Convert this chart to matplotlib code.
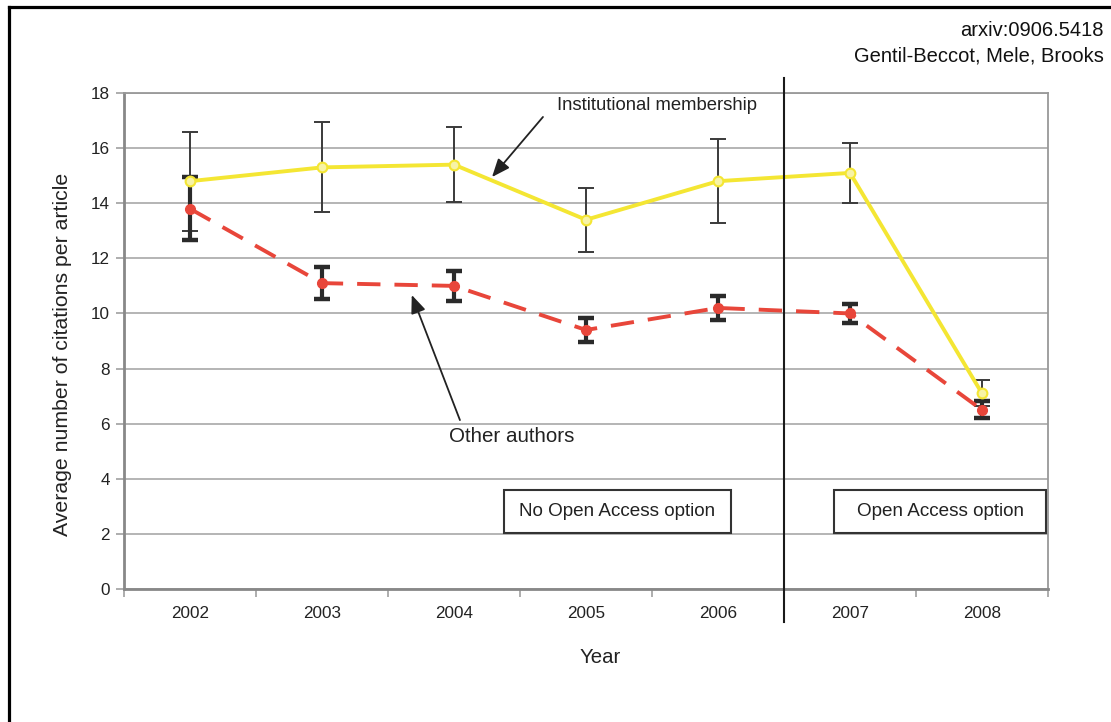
import numpy as np
import matplotlib
matplotlib.use('Agg')
import matplotlib.pyplot as plt
from matplotlib.patches import Rectangle
from matplotlib.lines import Line2D

plt.rcParams['font.family'] = ['Liberation Sans', 'DejaVu Sans']

years = ['2002', '2003', '2004', '2005', '2006', '2007', '2008']
inst_mean = [14.8, 15.3, 15.4, 13.4, 14.8, 15.1, 7.1]
inst_err = [1.8, 1.63, 1.37, 1.17, 1.53, 1.1, 0.47]
other_mean = [13.8, 11.1, 11.0, 9.4, 10.2, 10.0, 6.5]
other_err = [1.14, 0.57, 0.55, 0.43, 0.42, 0.33, 0.31]
yticks = [0, 2, 4, 6, 8, 10, 12, 14, 16, 18]

text_col = '#222222'
grid_col = '#a0a0a0'
yellow = '#f4e633'
red = '#e8463a'

fig = plt.figure(figsize=(11.11, 7.22), dpi=100)
ax = fig.add_axes([0.1116, 0.1842, 0.8317, 0.687])

x = np.arange(len(years))

# error bars first, lines on top
ax.errorbar(x, inst_mean, yerr=inst_err, fmt='none', ecolor='#3a3a3a',
            elinewidth=1.4, capsize=6, capthick=1.4, zorder=2)
ax.errorbar(x, other_mean, yerr=other_err, fmt='none', ecolor='#2a2a2a',
            elinewidth=3, capsize=6, capthick=3.2, zorder=2)
ax.plot(x, inst_mean, color=yellow, lw=2.8, marker='o', ms=7,
        mfc='#f7f3a6', mec=yellow, mew=1.5, zorder=3)
ax.plot(x, other_mean, color=red, lw=2.8, dashes=(6, 3.6), marker='o', ms=7,
        mfc=red, mec=red, zorder=3)

ax.set_xlim(-0.5, len(years) - 0.5)
ax.set_ylim(0, 18)
ax.set_yticks(yticks)
ax.yaxis.grid(True, color=grid_col, lw=1.1)
ax.set_axisbelow(True)

ax.set_xticks(np.arange(-0.5, len(years)), labels=[])
ax.set_xticks(x, labels=years, minor=True)
ax.tick_params(axis='x', which='major', length=6, color=grid_col, width=1.2)
ax.tick_params(axis='x', which='minor', length=0, pad=12, labelsize=12.3, labelcolor=text_col)
ax.tick_params(axis='y', length=6, color=grid_col, width=1.2, pad=4,
               labelsize=12.3, labelcolor=text_col)
for s in ax.spines.values():
    s.set_color('#999999')
    s.set_linewidth(1.3)
ax.spines['left'].set_color('#888888')
ax.spines['left'].set_linewidth(2)
ax.spines['bottom'].set_color('#888888')
ax.spines['bottom'].set_linewidth(2)

ax.set_ylabel('Average number of citations per article', fontsize=15.3, color=text_col)
ax.yaxis.set_label_coords(-0.056, 0.473)
ax.set_xlabel('Year', fontsize=14.7, color=text_col)
ax.xaxis.set_label_coords(0.515, -0.118)

# separator between periods
ax.plot([4.5, 4.5], [-1.2, 18.54], color='#1a1a1a', lw=1.5, clip_on=False, zorder=4)

# annotations
arrow = dict(arrowstyle='-|>,head_length=1.1,head_width=0.45',
             color='#222222', lw=1.3, shrinkA=0, shrinkB=0)
ax.text(2.78, 17.56, 'Institutional membership', fontsize=13.3, color=text_col,
        ha='left', va='center')
ax.annotate('', xy=(2.288, 14.95), xytext=(2.674, 17.13), arrowprops=arrow)
ax.text(2.44, 5.52, 'Other authors', fontsize=14.8, color=text_col,
        ha='center', va='center')
ax.annotate('', xy=(1.68, 10.67), xytext=(2.045, 6.13), arrowprops=arrow)

ax.add_patch(Rectangle((2.379, 2.03), 4.098 - 2.379, 1.56, fill=True, fc='white',
                       ec='#333333', lw=1.5, zorder=5))
ax.text((2.379 + 4.098) / 2, 2.81, 'No Open Access option', fontsize=13.6,
        color=text_col, ha='center', va='center', zorder=6)
ax.add_patch(Rectangle((4.879, 2.03), 6.485 - 4.879, 1.56, fill=True, fc='white',
                       ec='#333333', lw=1.5, zorder=5))
ax.text((4.879 + 6.485) / 2, 2.81, 'Open Access option', fontsize=13.6,
        color=text_col, ha='center', va='center', zorder=6)

fig.text(1104 / 1111, 1 - 30 / 722, 'arxiv:0906.5418', fontsize=14.5,
         color='#111111', ha='right', va='center')
fig.text(1104 / 1111, 1 - 56 / 722, 'Gentil-Beccot, Mele, Brooks', fontsize=14.5,
         color='#111111', ha='right', va='center')

# outer frame (left and top only)
fig.add_artist(Line2D([9 / 1111, 9 / 1111], [0, 1 - 6.5 / 722], color='black', lw=2.3))
fig.add_artist(Line2D([9 / 1111, 1], [1 - 6.5 / 722, 1 - 6.5 / 722], color='black', lw=2.3))

fig.savefig('out.png', dpi=100)
